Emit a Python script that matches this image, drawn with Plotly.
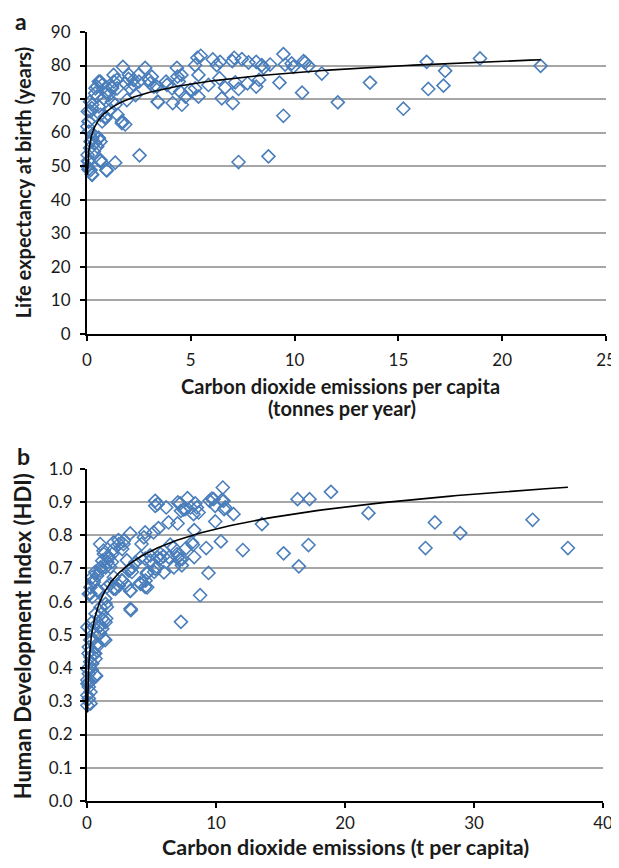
import numpy as np
import plotly.graph_objects as go
from plotly.subplots import make_subplots

# ---------------- Panel a: life expectancy vs CO2 per capita ----------------
co2_a = [5.32, 5.48, 5.21, 6.06, 6.25, 6.41, 7.0, 7.09, 7.46, 7.78, 8.15, 8.42, 8.5, 8.82, 9.46, 9.27,
         9.54, 9.86, 9.94, 10.43, 10.51, 10.67, 11.31, 10.36, 9.46, 12.08, 13.63, 15.24, 16.36, 16.44,
         17.25, 17.17, 18.93, 21.85, 8.74,
         1.73, 2.8, 4.33, 4.36, 5.37, 6.38, 7.73, 7.14, 8.29, 8.15, 7.3, 6.65, 6.49, 7.02, 7.3, 2.53,
         3.4, 4.13, 4.57, 4.74, 4.49, 4.97, 5.37, 5.21, 5.85, 3.85, 3.36, 3.04, 3.12, 2.48, 2.24, 2.08,
         1.92, 1.68, 1.84, 1.47, 1.28, 1.44, 1.2, 0.96, 0.64, 0.48, 0.39, 0.15, 0.23, 0.04, 0.07, 0.31,
         0.56, 0.39, 0.15, 0.04, 0.07, 0.23, 0.64, 0.72, 0.96, 1.36, 0.88, 1.12, 1.2, 0.8,
         4.55, 4.42, 3.81, 4.1, 2.98, 2.5, 2.26, 2.02, 1.85, 1.29, 1.45, 1.21, 1.05, 1.37, 0.89, 0.73,
         0.65, 0.57, 0.49, 0.41, 0.57, 0.73, 1.69, 0.25, 0.17, 0.09, 0.02, 0.09, 0.25, 0.57, 0.65, 0.49,
         0.17, 0.33, 0.03, 0.09, 0.03, 0.17, 0.25, 0.65, 0.93, 2.34, 3.43, 3.22, 2.0]
life_a = [82.3, 82.9, 80.1, 81.8, 80.1, 81.1, 81.3, 82.3, 81.9, 80.9, 81.1, 80.1, 79.3, 80.3, 83.4, 74.9,
          80.3, 80.6, 79.6, 81.3, 80.9, 79.9, 77.6, 71.9, 65.0, 69.0, 74.9, 67.1, 81.1, 73.0,
          78.4, 74.0, 82.1, 79.9, 52.9,
          79.6, 79.3, 79.3, 76.7, 77.2, 76.2, 74.7, 75.0, 75.7, 73.7, 73.0, 73.4, 70.2, 68.8, 51.2, 53.2,
          69.2, 68.8, 68.3, 70.7, 72.2, 72.7, 70.7, 73.2, 74.2, 74.2, 73.7, 74.7, 76.7, 77.2, 75.7, 73.2,
          69.7, 62.8, 62.4, 65.3, 77.2, 75.7, 73.7, 72.2, 75.2, 73.7, 71.7, 69.2, 67.3, 66.3, 63.3, 59.4,
          58.4, 56.9, 55.4, 51.5, 49.0, 47.5, 51.5, 51.0, 48.7, 51.0, 64.8, 66.8, 69.2, 70.2,
          77.2, 75.2, 75.2, 73.2, 75.7, 75.2, 74.2, 77.2, 74.7, 75.2, 73.2, 73.2, 71.2, 68.3, 64.3, 63.3,
          65.3, 67.8, 70.7, 73.2, 75.2, 74.2, 63.3, 68.3, 66.3, 63.3, 61.8, 60.3, 58.3, 58.3, 57.3, 55.8,
          57.3, 54.3, 53.3, 51.3, 49.8, 48.8, 47.4, 51.8, 48.8, 71.2, 69.1, 73.7, 76.0]

# ---------------- Panel b: HDI vs CO2 per capita ----------------
co2_b = [10.53, 5.29, 5.47, 5.29, 6.14, 7.04, 7.79, 8.39, 8.52, 8.65, 9.5, 9.81, 10.45, 10.63, 11.36,
         9.94, 7.28, 7.61, 8.26, 7.02, 6.32, 5.54, 5.16, 4.51, 3.35, 2.44, 2.06, 2.83, 9.94, 13.56,
         8.31, 8.21, 7.69, 9.24, 10.38, 12.08, 8.31, 7.02, 7.35, 6.45, 6.71, 5.93, 5.67, 4.9, 4.51,
         5.29, 5.21, 4.64, 4.12, 4.51, 3.35, 3.48, 3.09, 2.7, 3.35, 3.09, 9.42, 8.77, 7.28, 3.4,
         1.02, 1.28, 1.54, 1.93, 1.8, 1.02, 0.64, 0.25, 0.51, 0.89, 1.54, 2.06, 1.41, 1.54, 1.15,
         1.49, 0.89, 1.02, 1.41, 0.76, 0.64, 0.25, 0.12, 0.25, 0.38, 0.71, 0.03, 0.12,
         15.24, 16.32, 17.25, 18.91, 16.42, 17.17, 21.82, 26.24, 26.97, 28.93, 34.54, 37.28,
         7.22, 7.48, 9.68, 10.58, 10.71, 8.13, 7.22, 8.03,
         4.41, 4.23, 2.86, 2.47, 2.73, 2.08, 1.95, 1.7, 1.58, 1.31, 1.18, 1.44, 1.05, 0.79, 0.4,
         0.53, 0.27, 0.14, 0.4, 0.79, 1.82, 2.08, 2.21, 2.47, 2.73, 3.24, 3.5, 3.76, 4.15, 4.92,
         5.44, 5.7, 6.35, 6.99, 7.38, 6.73, 5.96, 5.44, 4.67, 4.54, 4.15, 4.67, 3.37, 3.37, 1.44,
         1.05, 0.66, 1.18, 0.4,
         0.03, 0.27, 0.53, 1.05, 1.44, 1.18, 1.31, 0.79, 0.4, 0.14, 0.53, 0.27, 0.66, 0.4, 0.03,
         0.14, 0.66, 0.27, 0.03, 0.14, 0.27, 0.03, 0.14, 0.03, 0.27]
hdi_b = [0.943, 0.903, 0.893, 0.888, 0.883, 0.898, 0.911, 0.895, 0.883, 0.868, 0.903, 0.908, 0.905, 0.878, 0.863,
         0.888, 0.873, 0.878, 0.863, 0.835, 0.838, 0.821, 0.808, 0.808, 0.805, 0.785, 0.778, 0.773, 0.841, 0.833,
         0.815, 0.771, 0.761, 0.761, 0.781, 0.755, 0.734, 0.732, 0.709, 0.771, 0.763, 0.736, 0.729, 0.739, 0.729,
         0.699, 0.689, 0.684, 0.656, 0.644, 0.699, 0.689, 0.724, 0.664, 0.632, 0.649, 0.686, 0.619, 0.539, 0.574,
         0.773, 0.753, 0.734, 0.719, 0.704, 0.694, 0.689, 0.624, 0.664, 0.634, 0.644, 0.639, 0.609, 0.584, 0.564,
         0.549, 0.524, 0.504, 0.484, 0.464, 0.444, 0.484, 0.444, 0.419, 0.394, 0.376, 0.364, 0.354,
         0.745, 0.908, 0.908, 0.930, 0.706, 0.770, 0.866, 0.761, 0.838, 0.806, 0.846, 0.761,
         0.895, 0.877, 0.910, 0.903, 0.883, 0.777, 0.727, 0.883,
         0.793, 0.773, 0.783, 0.773, 0.758, 0.758, 0.743, 0.733, 0.718, 0.743, 0.723, 0.703, 0.703, 0.678, 0.673,
         0.658, 0.643, 0.623, 0.613, 0.633, 0.653, 0.673, 0.638, 0.648, 0.663, 0.693, 0.703, 0.718, 0.733, 0.723,
         0.733, 0.743, 0.733, 0.743, 0.728, 0.703, 0.688, 0.703, 0.688, 0.663, 0.653, 0.643, 0.633, 0.578, 0.593,
         0.583, 0.563, 0.548, 0.538,
         0.523, 0.513, 0.523, 0.528, 0.538, 0.518, 0.488, 0.473, 0.483, 0.463, 0.443, 0.433, 0.428, 0.413, 0.398,
         0.383, 0.378, 0.363, 0.353, 0.343, 0.328, 0.318, 0.308, 0.288, 0.293]

# Logarithmic trend lines (y = A*ln(x) + B)
trend_a = [4.9, 66.6]
trend_b = [0.095, 0.60]

ytick_a = [0, 10, 20, 30, 40, 50, 60, 70, 80, 90]
ytick_b = [0.0, 0.1, 0.2, 0.3, 0.4, 0.5, 0.6, 0.7, 0.8, 0.9, 1.0]
xtick_a = [0, 5, 10, 15, 20, 25]
xtick_b = [0, 10, 20, 30, 40]

# The page body adds an 8px margin, so the figure is sized and laid out in screen pixels minus 8.
OFF = 8
W, H = 619 - OFF, 868 - OFF
ML = 87 - OFF
MR = W - (606 - OFF)
MT = 31.7 - OFF
MB = H - (800.7 - OFF)
PW, PH = W - ML - MR, H - MT - MB

def px2paper(x, y):
    """screen pixel -> paper coordinate"""
    return (x - OFF - ML) / PW, 1 - (y - OFF - MT) / PH

FONT = "Lato, Calibri, Carlito, sans-serif"
TXT = "#1a1a1a"
BLUE = "#4A7EBB"

fig = make_subplots(rows=2, cols=1)

def trend_xy(xs, coef):
    xx = np.geomspace(min(xs), max(xs), 300)
    return xx, coef[0] * np.log(xx) + coef[1]

marker = dict(symbol="diamond-open", size=10, color=BLUE, line=dict(width=1.6, color=BLUE))

fig.add_trace(go.Scatter(x=co2_a, y=life_a, mode="markers", marker=marker, cliponaxis=False,
                         showlegend=False), row=1, col=1)
tx, ty = trend_xy(co2_a, trend_a)
fig.add_trace(go.Scatter(x=tx, y=ty, mode="lines", line=dict(color="black", width=1.6),
                         showlegend=False), row=1, col=1)

fig.add_trace(go.Scatter(x=co2_b, y=hdi_b, mode="markers", marker=marker, cliponaxis=False,
                         showlegend=False), row=2, col=1)
tx, ty = trend_xy(co2_b, trend_b)
fig.add_trace(go.Scatter(x=tx, y=ty, mode="lines", line=dict(color="black", width=1.6),
                         showlegend=False), row=2, col=1)

axis_common = dict(showline=True, linecolor="black", linewidth=2, ticks="outside", ticklen=5,
                   tickwidth=1.5, tickcolor="black", zeroline=False, mirror=False, automargin=False,
                   tickfont=dict(family=FONT, size=17, color=TXT))

_, top_a = px2paper(0, 31.7)
_, bot_a = px2paper(0, 333.3)
_, top_b = px2paper(0, 468.3)
_, bot_b = px2paper(0, 800.7)
right_b, _ = px2paper(603, 0)

fig.update_xaxes(range=[0, 25], tickvals=xtick_a, showgrid=False, domain=[0, 1],
                 ticklabelstandoff=5, row=1, col=1, **axis_common)
fig.update_yaxes(range=[0, 90], tickvals=ytick_a, showgrid=True, gridcolor="#A6A6A6", gridwidth=1.8,
                 domain=[bot_a, top_a], ticklabelstandoff=6, row=1, col=1, **axis_common)
fig.update_xaxes(range=[0, 40], tickvals=xtick_b, showgrid=False, domain=[0, right_b],
                 ticklabelstandoff=1, row=2, col=1, **axis_common)
fig.update_yaxes(range=[0, 1.0], tickvals=ytick_b, tickformat=".1f", showgrid=True, gridcolor="#A6A6A6",
                 gridwidth=1.8, domain=[bot_b, top_b], ticklabelstandoff=4, row=2, col=1, **axis_common)

def ann(text, x, y, size, angle=0, bold=True):
    px, py = px2paper(x, y)
    fig.add_annotation(text=f"<b>{text}</b>" if bold else text, x=px, y=py, xref="paper", yref="paper",
                       showarrow=False, textangle=angle, xanchor="center", yanchor="middle",
                       font=dict(family=FONT, size=size, color=TXT))

ann("a", 21, 21, 23)
ann("b", 23, 456, 23)
ann("Life expectancy at birth (years)", 23, 183, 20, angle=-90)
ann("Human Development Index (HDI)", 22, 636, 22, angle=-90)
ann("Carbon dioxide emissions per capita", 340, 386, 20)
ann("(tonnes per year)", 342, 408, 20)
ann("Carbon dioxide emissions (t per capita)", 345, 847, 21.5)

fig.update_layout(width=W, height=H, margin=dict(l=ML, r=MR, t=MT, b=MB, autoexpand=False),
                  plot_bgcolor="white", paper_bgcolor="white",
                  font=dict(family=FONT, color=TXT))

fig.write_html("out.html")
